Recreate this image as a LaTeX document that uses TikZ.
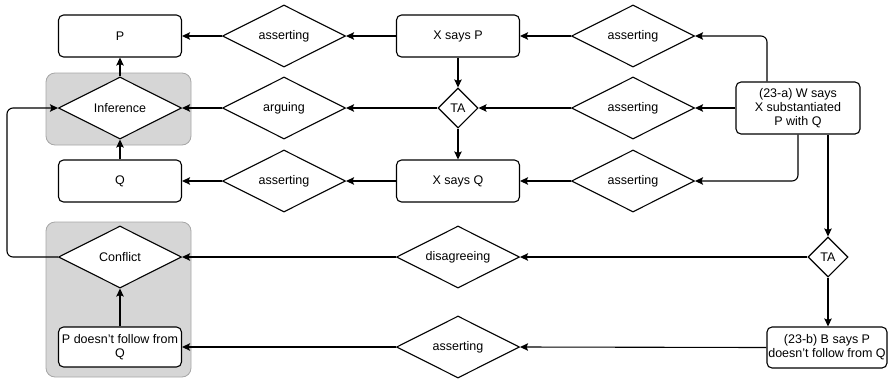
\documentclass[tikz,border=0pt]{standalone}
\usepackage{fontspec}
\setmainfont{Liberation Sans}
\usetikzlibrary{shapes.geometric,arrows.meta}
\begin{document}
\begin{tikzpicture}[x=1pt,y=-1pt,
  every node/.style={font=\fontsize{12.5}{14.2}\selectfont},
  box/.style={draw, line width=1.1pt, rounded corners=5pt, fill=white, minimum width=123pt, minimum height=42pt, inner sep=1pt, align=center},
  dia/.style={draw, line width=1.1pt, diamond, aspect=2, fill=white, inner sep=0pt, minimum width=123pt, minimum height=62pt},
  tadia/.style={draw, line width=1.1pt, diamond, fill=white, inner sep=0pt, minimum width=40pt, minimum height=40pt},
  group/.style={draw=black!35, line width=0.8pt, fill=black!16, rounded corners=9pt},
  arr/.style={line width=1.1pt, -{Stealth[length=8pt,width=7.5pt,inset=1.5pt]}},
  ln/.style={line width=1.1pt}]
\useasboundingbox (0,0) rectangle (889,381);
% groups
\node[group, minimum width=145pt, minimum height=72pt] (ginf) at (118.5,109) {};
\node[group, minimum width=145pt, minimum height=155pt] (gconf) at (118.5,299.5) {};
% left column
\node[box] (P) at (120,36) {P};
\node[dia] (inf) at (120,108) {Inference};
\node[box] (Q) at (120,181) {Q};
\node[dia] (conf) at (120,257) {Conflict};
\node[box, minimum height=40pt, inner sep=0pt] (pnf) at (120,347) {P doesn't follow from\\Q};
% second column
\node[dia] (as1) at (284,36) {asserting};
\node[dia] (arg) at (284,108) {arguing};
\node[dia] (as3) at (284,181) {asserting};
% middle column
\node[box] (xp) at (458,36) {X says P};
\node[tadia] (ta1) at (458,108) {TA};
\node[box] (xq) at (458,181) {X says Q};
\node[dia] (dis) at (458,257) {disagreeing};
\node[dia] (asb) at (458,347) {asserting};
% right column diamonds
\node[dia] (ar1) at (633,36) {asserting};
\node[dia] (ar2) at (633,108) {asserting};
\node[dia] (ar3) at (633,181) {asserting};
% source nodes
\node[box, minimum width=124pt, minimum height=52pt, inner sep=0pt] (a23) at (798,108) {(23-a) W says\\X substantiated\\P with Q};
\node[tadia] (ta2) at (828,257) {TA};
\node[box, minimum width=120pt, minimum height=41pt, inner sep=0pt] (b23) at (827,347.5) {(23-b) B says P\\doesn't follow from Q};
% connectors top rows
\draw[arr] (as1.west) -- (P.east);
\draw[arr] (xp.west) -- (as1.east);
\draw[arr] (ar1.west) -- (xp.east);
\draw[arr, rounded corners=6pt] ([xshift=-31pt]a23.north) |- (ar1.east);
\draw[arr] (xp.south) -- (ta1.north);
\draw[arr] (ta1.west) -- (arg.east);
\draw[arr] (arg.west) -- (inf.east);
\draw[arr] (ar2.west) -- (ta1.east);
\draw[arr] (a23.west) -- (ar2.east);
\draw[arr] (ta1.south) -- (xq.north);
\draw[arr] (xq.west) -- (as3.east);
\draw[arr] (as3.west) -- (Q.east);
\draw[arr] (ar3.west) -- (xq.east);
\draw[arr, rounded corners=6pt] (a23.south) |- (ar3.east);
\draw[arr] (inf.north) -- (P.south);
\draw[arr] (Q.north) -- (inf.south);
% lower part
\draw[arr] (ta2.north |- a23.south) -- (ta2.north);
\draw[arr] (ta2.west) -- (dis.east);
\draw[arr] (dis.west) -- (conf.east);
\draw[arr] (ta2.south) -- (ta2.south |- b23.north);
\draw[arr] (b23.west) -- (asb.east);
\draw[arr] (asb.west) -- (pnf.east);
\draw[arr] (pnf.north) -- (conf.south);
\coordinate (lc) at (7,257);
\draw[arr, rounded corners=6pt] (conf.west) -- (lc) |- (inf.west);
\end{tikzpicture}
\end{document}
